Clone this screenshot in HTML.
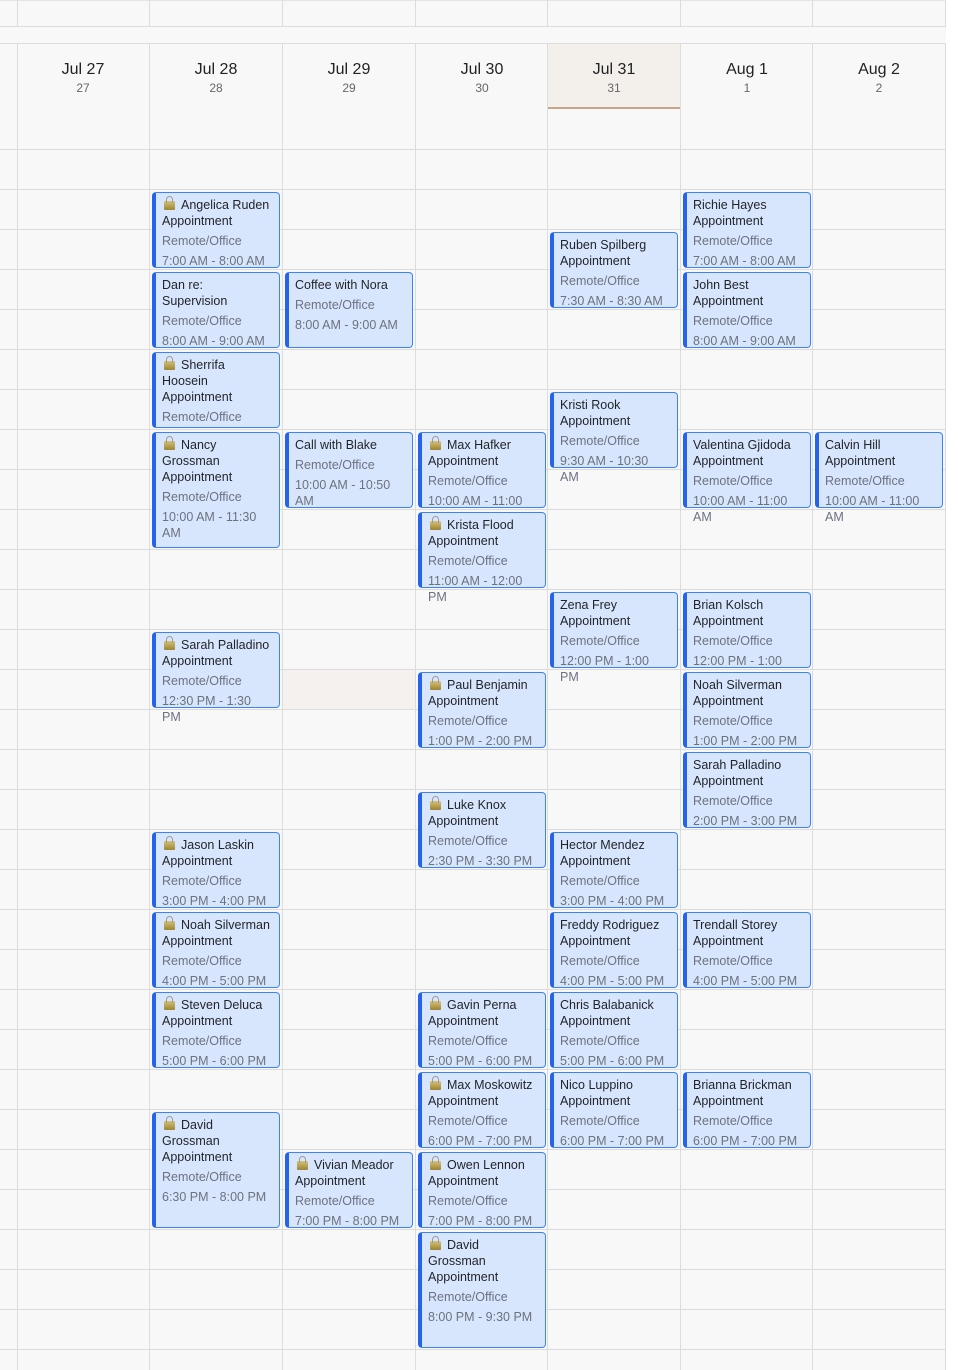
<!DOCTYPE html>
<html><head><meta charset="utf-8"><style>
*{box-sizing:border-box;margin:0;padding:0}
body{width:958px;height:1370px;background:#fff;font-family:"Liberation Sans",sans-serif;position:relative;overflow:hidden}
.bg{position:absolute;left:0;top:0;width:946px;height:1370px;background:#f8f8f9;border-right:1px solid #dcdcdc}
.v{position:absolute;width:1px;background:#dcdcdc}
.h{position:absolute;left:0;width:946px;height:1px;background:#dcdcdc}
.hd{position:absolute;top:44px;width:132px;height:65px;text-align:center}
.hd b{display:block;font-weight:normal;font-size:16px;color:#222;margin-top:17px;line-height:18px}
.hd i{display:block;font-style:normal;font-size:12px;color:#666;line-height:16px;margin-top:1px}
.e{position:absolute;width:128px;background:#d8e6fd;border:1px solid #3b82f6;border-left:4px solid #2563eb;border-radius:4px;padding:4px 0 0 6px;font-size:12.5px;line-height:16px;white-space:nowrap}
.e .t{color:#1f2328}
.e .s{color:#6b7280;margin-top:4px}
.l{display:inline-block;width:11px;height:9px;background:linear-gradient(#d6c27a,#9c8532);border-radius:1px;position:relative;margin:0 6px 0 2px;vertical-align:-1px}
.l:before{content:"";position:absolute;left:2px;top:-5px;width:5px;height:6px;border:1px solid #9a9a9a;border-bottom:none;border-radius:4px 4px 0 0}
</style></head><body>
<div class="bg"></div>
<div style="position:absolute;left:548px;top:44px;width:133px;height:64px;background:#f3f0eb"></div>
<div style="position:absolute;left:548px;top:107px;width:133px;height:2px;background:#c9a58a"></div>
<div style="position:absolute;left:283px;top:670px;width:133px;height:39px;background:#f4f1ee"></div>
<div class="h" style="top:0;background:#e4e4e4"></div>
<div class="h" style="top:26px"></div>
<div style="position:absolute;left:0;top:27px;width:946px;height:16px;background:#f8f8f9"></div>
<div class="h" style="top:43px"></div>
<div class="h" style="top:149px"></div><div class="h" style="top:189px"></div><div class="h" style="top:229px"></div><div class="h" style="top:269px"></div><div class="h" style="top:309px"></div><div class="h" style="top:349px"></div><div class="h" style="top:389px"></div><div class="h" style="top:429px"></div><div class="h" style="top:469px"></div><div class="h" style="top:509px"></div><div class="h" style="top:549px"></div><div class="h" style="top:589px"></div><div class="h" style="top:629px"></div><div class="h" style="top:669px"></div><div class="h" style="top:709px"></div><div class="h" style="top:749px"></div><div class="h" style="top:789px"></div><div class="h" style="top:829px"></div><div class="h" style="top:869px"></div><div class="h" style="top:909px"></div><div class="h" style="top:949px"></div><div class="h" style="top:989px"></div><div class="h" style="top:1029px"></div><div class="h" style="top:1069px"></div><div class="h" style="top:1109px"></div><div class="h" style="top:1149px"></div><div class="h" style="top:1189px"></div><div class="h" style="top:1229px"></div><div class="h" style="top:1269px"></div><div class="h" style="top:1309px"></div><div class="h" style="top:1349px"></div>
<div class="v" style="left:17px;top:0;height:26px"></div><div class="v" style="left:17px;top:44px;height:1326px"></div>
<div class="v" style="left:149px;top:0;height:26px"></div><div class="v" style="left:149px;top:44px;height:1326px"></div>
<div class="v" style="left:282px;top:0;height:26px"></div><div class="v" style="left:282px;top:44px;height:1326px"></div>
<div class="v" style="left:415px;top:0;height:26px"></div><div class="v" style="left:415px;top:44px;height:1326px"></div>
<div class="v" style="left:547px;top:0;height:26px"></div><div class="v" style="left:547px;top:44px;height:1326px"></div>
<div class="v" style="left:680px;top:0;height:26px"></div><div class="v" style="left:680px;top:44px;height:1326px"></div>
<div class="v" style="left:812px;top:0;height:26px"></div><div class="v" style="left:812px;top:44px;height:1326px"></div>

<div class="hd" style="left:17px"><b>Jul 27</b><i>27</i></div>
<div class="hd" style="left:150px"><b>Jul 28</b><i>28</i></div>
<div class="hd" style="left:283px"><b>Jul 29</b><i>29</i></div>
<div class="hd" style="left:416px"><b>Jul 30</b><i>30</i></div>
<div class="hd" style="left:548px"><b>Jul 31</b><i>31</i></div>
<div class="hd" style="left:681px"><b>Aug 1</b><i>1</i></div>
<div class="hd" style="left:813px"><b>Aug 2</b><i>2</i></div>

<!-- Jul 28 -->
<div class="e" style="left:152px;top:192px;height:76px"><div class="t"><span class="l"></span>Angelica Ruden<br>Appointment</div><div class="s">Remote/Office</div><div class="s">7:00 AM - 8:00 AM</div></div>
<div class="e" style="left:152px;top:272px;height:76px"><div class="t">Dan re:<br>Supervision</div><div class="s">Remote/Office</div><div class="s">8:00 AM - 9:00 AM</div></div>
<div class="e" style="left:152px;top:352px;height:76px;overflow:hidden"><div class="t"><span class="l"></span>Sherrifa<br>Hoosein<br>Appointment</div><div class="s">Remote/Office</div><div class="s">9:00 AM - 10:00 AM</div></div>
<div class="e" style="left:152px;top:432px;height:116px"><div class="t"><span class="l"></span>Nancy<br>Grossman<br>Appointment</div><div class="s">Remote/Office</div><div class="s">10:00 AM - 11:30<br>AM</div></div>
<div class="e" style="left:152px;top:632px;height:76px"><div class="t"><span class="l"></span>Sarah Palladino<br>Appointment</div><div class="s">Remote/Office</div><div class="s">12:30 PM - 1:30<br>PM</div></div>
<div class="e" style="left:152px;top:832px;height:76px"><div class="t"><span class="l"></span>Jason Laskin<br>Appointment</div><div class="s">Remote/Office</div><div class="s">3:00 PM - 4:00 PM</div></div>
<div class="e" style="left:152px;top:912px;height:76px"><div class="t"><span class="l"></span>Noah Silverman<br>Appointment</div><div class="s">Remote/Office</div><div class="s">4:00 PM - 5:00 PM</div></div>
<div class="e" style="left:152px;top:992px;height:76px"><div class="t"><span class="l"></span>Steven Deluca<br>Appointment</div><div class="s">Remote/Office</div><div class="s">5:00 PM - 6:00 PM</div></div>
<div class="e" style="left:152px;top:1112px;height:116px"><div class="t"><span class="l"></span>David<br>Grossman<br>Appointment</div><div class="s">Remote/Office</div><div class="s">6:30 PM - 8:00 PM</div></div>

<!-- Jul 29 -->
<div class="e" style="left:285px;top:272px;height:76px"><div class="t">Coffee with Nora</div><div class="s">Remote/Office</div><div class="s">8:00 AM - 9:00 AM</div></div>
<div class="e" style="left:285px;top:432px;height:76px"><div class="t">Call with Blake</div><div class="s">Remote/Office</div><div class="s">10:00 AM - 10:50<br>AM</div></div>
<div class="e" style="left:285px;top:1152px;height:76px"><div class="t"><span class="l"></span>Vivian Meador<br>Appointment</div><div class="s">Remote/Office</div><div class="s">7:00 PM - 8:00 PM</div></div>

<!-- Jul 30 -->
<div class="e" style="left:418px;top:432px;height:76px"><div class="t"><span class="l"></span>Max Hafker<br>Appointment</div><div class="s">Remote/Office</div><div class="s">10:00 AM - 11:00<br>AM</div></div>
<div class="e" style="left:418px;top:512px;height:76px"><div class="t"><span class="l"></span>Krista Flood<br>Appointment</div><div class="s">Remote/Office</div><div class="s">11:00 AM - 12:00<br>PM</div></div>
<div class="e" style="left:418px;top:672px;height:76px"><div class="t"><span class="l"></span>Paul Benjamin<br>Appointment</div><div class="s">Remote/Office</div><div class="s">1:00 PM - 2:00 PM</div></div>
<div class="e" style="left:418px;top:792px;height:76px"><div class="t"><span class="l"></span>Luke Knox<br>Appointment</div><div class="s">Remote/Office</div><div class="s">2:30 PM - 3:30 PM</div></div>
<div class="e" style="left:418px;top:992px;height:76px"><div class="t"><span class="l"></span>Gavin Perna<br>Appointment</div><div class="s">Remote/Office</div><div class="s">5:00 PM - 6:00 PM</div></div>
<div class="e" style="left:418px;top:1072px;height:76px"><div class="t"><span class="l"></span>Max Moskowitz<br>Appointment</div><div class="s">Remote/Office</div><div class="s">6:00 PM - 7:00 PM</div></div>
<div class="e" style="left:418px;top:1152px;height:76px"><div class="t"><span class="l"></span>Owen Lennon<br>Appointment</div><div class="s">Remote/Office</div><div class="s">7:00 PM - 8:00 PM</div></div>
<div class="e" style="left:418px;top:1232px;height:116px"><div class="t"><span class="l"></span>David<br>Grossman<br>Appointment</div><div class="s">Remote/Office</div><div class="s">8:00 PM - 9:30 PM</div></div>

<!-- Jul 31 -->
<div class="e" style="left:550px;top:232px;height:76px"><div class="t">Ruben Spilberg<br>Appointment</div><div class="s">Remote/Office</div><div class="s">7:30 AM - 8:30 AM</div></div>
<div class="e" style="left:550px;top:392px;height:76px"><div class="t">Kristi Rook<br>Appointment</div><div class="s">Remote/Office</div><div class="s">9:30 AM - 10:30<br>AM</div></div>
<div class="e" style="left:550px;top:592px;height:76px"><div class="t">Zena Frey<br>Appointment</div><div class="s">Remote/Office</div><div class="s">12:00 PM - 1:00<br>PM</div></div>
<div class="e" style="left:550px;top:832px;height:76px"><div class="t">Hector Mendez<br>Appointment</div><div class="s">Remote/Office</div><div class="s">3:00 PM - 4:00 PM</div></div>
<div class="e" style="left:550px;top:912px;height:76px"><div class="t">Freddy Rodriguez<br>Appointment</div><div class="s">Remote/Office</div><div class="s">4:00 PM - 5:00 PM</div></div>
<div class="e" style="left:550px;top:992px;height:76px"><div class="t">Chris Balabanick<br>Appointment</div><div class="s">Remote/Office</div><div class="s">5:00 PM - 6:00 PM</div></div>
<div class="e" style="left:550px;top:1072px;height:76px"><div class="t">Nico Luppino<br>Appointment</div><div class="s">Remote/Office</div><div class="s">6:00 PM - 7:00 PM</div></div>

<!-- Aug 1 -->
<div class="e" style="left:683px;top:192px;height:76px"><div class="t">Richie Hayes<br>Appointment</div><div class="s">Remote/Office</div><div class="s">7:00 AM - 8:00 AM</div></div>
<div class="e" style="left:683px;top:272px;height:76px"><div class="t">John Best<br>Appointment</div><div class="s">Remote/Office</div><div class="s">8:00 AM - 9:00 AM</div></div>
<div class="e" style="left:683px;top:432px;height:76px"><div class="t">Valentina Gjidoda<br>Appointment</div><div class="s">Remote/Office</div><div class="s">10:00 AM - 11:00<br>AM</div></div>
<div class="e" style="left:683px;top:592px;height:76px"><div class="t">Brian Kolsch<br>Appointment</div><div class="s">Remote/Office</div><div class="s">12:00 PM - 1:00<br>PM</div></div>
<div class="e" style="left:683px;top:672px;height:76px"><div class="t">Noah Silverman<br>Appointment</div><div class="s">Remote/Office</div><div class="s">1:00 PM - 2:00 PM</div></div>
<div class="e" style="left:683px;top:752px;height:76px"><div class="t">Sarah Palladino<br>Appointment</div><div class="s">Remote/Office</div><div class="s">2:00 PM - 3:00 PM</div></div>
<div class="e" style="left:683px;top:912px;height:76px"><div class="t">Trendall Storey<br>Appointment</div><div class="s">Remote/Office</div><div class="s">4:00 PM - 5:00 PM</div></div>
<div class="e" style="left:683px;top:1072px;height:76px"><div class="t">Brianna Brickman<br>Appointment</div><div class="s">Remote/Office</div><div class="s">6:00 PM - 7:00 PM</div></div>

<!-- Aug 2 -->
<div class="e" style="left:815px;top:432px;height:76px"><div class="t">Calvin Hill<br>Appointment</div><div class="s">Remote/Office</div><div class="s">10:00 AM - 11:00<br>AM</div></div>
</body></html>
